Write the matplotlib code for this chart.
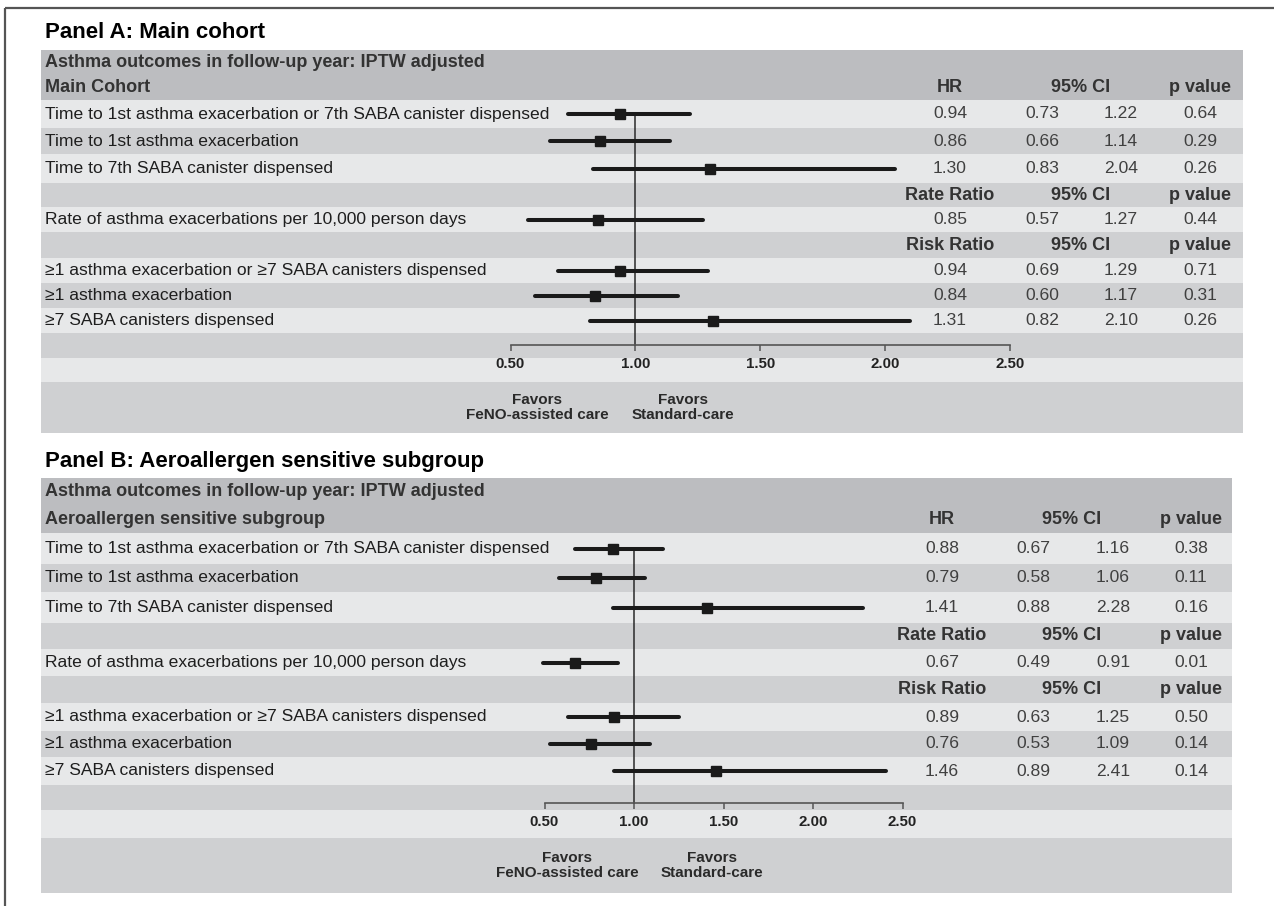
import matplotlib
matplotlib.use('Agg')
import matplotlib.pyplot as plt
from matplotlib.patches import Rectangle

plt.rcParams['font.family'] = ['Liberation Sans', 'DejaVu Sans']

# ---------------- data ----------------
outcome_labels = [
    "Time to 1st asthma exacerbation or 7th SABA canister dispensed",
    "Time to 1st asthma exacerbation",
    "Time to 7th SABA canister dispensed",
    "Rate of asthma exacerbations per 10,000 person days",
    "\u22651 asthma exacerbation or \u22657 SABA canisters dispensed",
    "\u22651 asthma exacerbation",
    "\u22657 SABA canisters dispensed",
]
measure_names = ["HR", "Rate Ratio", "Risk Ratio"]

a_est = [0.94, 0.86, 1.30, 0.85, 0.94, 0.84, 1.31]
a_lo = [0.73, 0.66, 0.83, 0.57, 0.69, 0.60, 0.82]
a_hi = [1.22, 1.14, 2.04, 1.27, 1.29, 1.17, 2.10]
a_p = ["0.64", "0.29", "0.26", "0.44", "0.71", "0.31", "0.26"]

b_est = [0.88, 0.79, 1.41, 0.67, 0.89, 0.76, 1.46]
b_lo = [0.67, 0.58, 0.88, 0.49, 0.63, 0.53, 0.89]
b_hi = [1.16, 1.06, 2.28, 0.91, 1.25, 1.09, 2.41]
b_p = ["0.38", "0.11", "0.16", "0.01", "0.50", "0.14", "0.14"]

tick_values = [0.50, 1.00, 1.50, 2.00, 2.50]
tick_labels = ["0.50", "1.00", "1.50", "2.00", "2.50"]

# ---------------- layout ----------------
W, H, DPI = 1274, 906, 100
C_HDR = '#bcbdc0'
C_DARK = '#cfd0d2'
C_LIGHT = '#e7e8e9'
C_TXT = '#1e1e1e'
C_VAL = '#404040'
C_HTXT = '#333333'

panels = [
    dict(title="Panel A: Main cohort", sub="Main Cohort",
         est=a_est, lo=a_lo, hi=a_hi, p=a_p,
         left=41, right=1243, title_y=33, top=50, hdr_bottom=100,
         bounds=[100, 128, 154, 183, 207, 232, 258, 283, 308, 333, 358, 382, 433],
         col_hr=950, col_lo=1042, col_hi=1121, col_ci=1081, col_p=1200,
         fx0=510.5, fx1=1010, axis_y=345, fav=(537, 683)),
    dict(title="Panel B: Aeroallergen sensitive subgroup", sub="Aeroallergen sensitive subgroup",
         est=b_est, lo=b_lo, hi=b_hi, p=b_p,
         left=41, right=1232, title_y=462, top=478, hdr_bottom=533,
         bounds=[533, 564, 592, 623, 649, 676, 703, 731, 757, 785, 810, 838, 893],
         col_hr=942, col_lo=1033, col_hi=1113, col_ci=1072, col_p=1191,
         fx0=544.5, fx1=902.5, axis_y=803, fav=(567, 712)),
]

# row slot of each outcome, header slots for rate/risk
data_slots = [0, 1, 2, 4, 6, 7, 8]
measure_hdr_slots = {1: 3, 2: 5}

fig = plt.figure(figsize=(W / DPI, H / DPI), dpi=DPI)
fig.patch.set_facecolor('white')
bg = fig.add_axes([0, 0, 1, 1])
bg.set_xlim(0, W)
bg.set_ylim(H, 0)
bg.axis('off')

# frame (top and left edges)
bg.plot([5, 5], [8, H], color='#555555', lw=1.6, solid_capstyle='butt')
bg.plot([5, W], [8, 8], color='#555555', lw=1.6, solid_capstyle='butt')

for P in panels:
    L, R = P['left'], P['right']
    bg.text(45, P['title_y'], P['title'], fontsize=16, fontweight='bold',
            color='black', ha='left', va='center')
    # header block
    bg.add_patch(Rectangle((L, P['top']), R - L, P['hdr_bottom'] - P['top'],
                           facecolor=C_HDR, edgecolor='none'))
    b = P['bounds']
    for i in range(len(b) - 1):
        col = C_LIGHT if i % 2 == 0 else C_DARK
        bg.add_patch(Rectangle((L, b[i]), R - L, b[i + 1] - b[i],
                               facecolor=col, edgecolor='none'))
    centers = [(b[i] + b[i + 1]) / 2 for i in range(len(b) - 1)]

    h1 = P['top'] + (P['hdr_bottom'] - P['top']) * 0.25
    h2 = P['top'] + (P['hdr_bottom'] - P['top']) * 0.75
    bg.text(45, h1, "Asthma outcomes in follow-up year: IPTW adjusted", fontsize=13,
            fontweight='bold', color=C_HTXT, ha='left', va='center')
    bg.text(45, h2, P['sub'], fontsize=13, fontweight='bold', color=C_HTXT,
            ha='left', va='center')

    def col_headers(y, name):
        for x, t in ((P['col_hr'], name), (P['col_ci'], "95% CI"), (P['col_p'], "p value")):
            bg.text(x, y, t, fontsize=13, fontweight='bold', color=C_HTXT,
                    ha='center', va='center')

    col_headers(h2, measure_names[0])
    for m, slot in measure_hdr_slots.items():
        col_headers(centers[slot], measure_names[m])

    # forest axes: x in ratio units, y in pixel rows
    fax = fig.add_axes([P['fx0'] / W, 0, (P['fx1'] - P['fx0']) / W, 1])
    fax.set_xlim(tick_values[0], tick_values[-1])
    fax.set_ylim(H, 0)
    fax.patch.set_visible(False)
    for s in ['top', 'left', 'right']:
        fax.spines[s].set_visible(False)
    fax.spines['bottom'].set_position(('data', P['axis_y']))
    fax.spines['bottom'].set_color('#555555')
    fax.spines['bottom'].set_linewidth(1.2)
    fax.set_yticks([])
    fax.set_xticks(tick_values)
    fax.set_xticklabels(tick_labels, fontsize=10.8, fontweight='bold', color='#222222')
    fax.tick_params(axis='x', direction='out', length=4, width=1.1, color='#555555', pad=5)

    first_y = centers[data_slots[0]]
    fax.plot([1.0, 1.0], [first_y, P['axis_y']], color='#2a2a2a', lw=1.1,
             zorder=2, clip_on=False)

    for k, slot in enumerate(data_slots):
        y = centers[slot]
        bg.text(45, y, outcome_labels[k], fontsize=12.6, color=C_TXT,
                ha='left', va='center')
        fax.plot([P['lo'][k], P['hi'][k]], [y, y], color='#1a1a1a', lw=2.9,
                 solid_capstyle='round', zorder=3, clip_on=False)
        fax.plot([P['est'][k]], [y], marker='s', markersize=7, color='#1a1a1a',
                 zorder=4, clip_on=False)
        bg.text(P['col_hr'], y, f"{P['est'][k]:.2f}", fontsize=12.6, color=C_VAL,
                ha='center', va='center')
        bg.text(P['col_lo'], y, f"{P['lo'][k]:.2f}", fontsize=12.6, color=C_VAL,
                ha='center', va='center')
        bg.text(P['col_hi'], y, f"{P['hi'][k]:.2f}", fontsize=12.6, color=C_VAL,
                ha='center', va='center')
        bg.text(P['col_p'], y, P['p'][k], fontsize=12.6, color=C_VAL,
                ha='center', va='center')

    fy = centers[11]
    bg.text(P['fav'][0], fy, "Favors\nFeNO-assisted care", fontsize=11, fontweight='bold',
            color='#2a2a2a', ha='center', va='center', linespacing=1.15)
    bg.text(P['fav'][1], fy, "Favors\nStandard-care", fontsize=11, fontweight='bold',
            color='#2a2a2a', ha='center', va='center', linespacing=1.15)

fig.savefig('out.png', dpi=DPI, facecolor='white')
